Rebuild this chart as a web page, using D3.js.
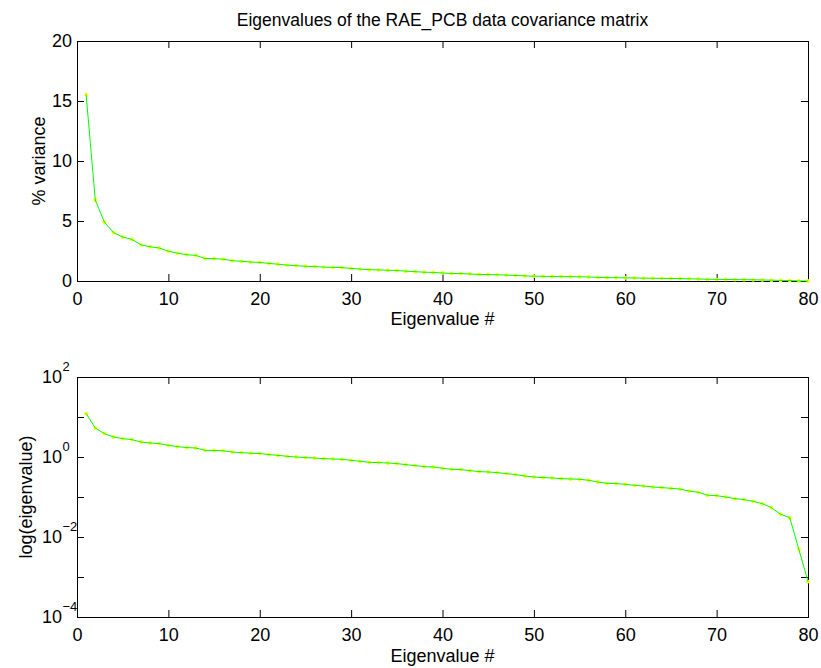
<!DOCTYPE html>
<html>
<head>
<meta charset="utf-8">
<script src="https://cdn.jsdelivr.net/npm/d3@7"></script>
<style>
  body { margin: 0; background: #fff; }
  svg { font-family: "Liberation Sans", Arial, sans-serif; }
</style>
</head>
<body>
<svg id="chart"></svg>
<script>
const width = 821;
const height = 668;

// eigenvalues, #1 .. #80
const eigenvalues = [
  12.2, 5.3, 3.85, 3.16, 2.88, 2.72, 2.37, 2.24, 2.16, 1.95,
  1.82, 1.72, 1.68, 1.47, 1.46, 1.43, 1.33, 1.29, 1.24, 1.22,
  1.15, 1.10, 1.04, 1.0, 0.966, 0.944, 0.91, 0.89, 0.876, 0.827,
  0.78, 0.737, 0.724, 0.708, 0.684, 0.645, 0.61, 0.575, 0.562, 0.522,
  0.493, 0.484, 0.457, 0.431, 0.422, 0.407, 0.385, 0.363, 0.335, 0.316,
  0.305, 0.299, 0.288, 0.282, 0.277, 0.262, 0.237, 0.22, 0.216, 0.208,
  0.196, 0.188, 0.178, 0.172, 0.165, 0.158, 0.141, 0.131, 0.111, 0.108,
  0.1, 0.091, 0.086, 0.078, 0.068, 0.054, 0.037, 0.0305, 0.0049, 0.00077
];
const xTicks = [0, 10, 20, 30, 40, 50, 60, 70, 80];
const varTicks = [0, 5, 10, 15, 20];
const logTicks = [1e-4, 1e-3, 1e-2, 1e-1, 1e0, 1e1, 1e2];
const logLabels = ["\u22124", "", "\u22122", "", "0", "", "2"];

const total = d3.sum(eigenvalues);
const points = eigenvalues.map((v, i) => ({ n: i + 1, eig: v, pct: v / total * 100 }));

const svg = d3.select("#chart").attr("width", width).attr("height", height);

const left = 77, right = 808;
const fs = 18;
const x = d3.scaleLinear().domain([0, 80]).range([left, right]);
const yVar = d3.scaleLinear().domain([0, 20]).range([281, 41]);
const yLog = d3.scaleLog().domain([1e-4, 1e2]).range([617, 377]);

function drawBox(yScale, yTickVals, yFormat) {
  const [y0, y1] = yScale.range();
  const g = svg.append("g");
  const styleAxis = (a) => {
    a.selectAll("path").attr("stroke", "#000").attr("stroke-width", 1);
    a.selectAll("line").attr("stroke", "#000");
    a.selectAll("text").attr("fill", "#000").attr("font-size", fs).attr("font-family", null);
  };
  g.append("g").attr("transform", `translate(0,${y0})`)
    .call(d3.axisBottom(x).tickValues(xTicks).tickSizeInner(-7).tickSizeOuter(0).tickPadding(11.5))
    .call(styleAxis);
  g.append("g").attr("transform", `translate(0,${y1})`)
    .call(d3.axisTop(x).tickValues(xTicks).tickSizeInner(-7).tickSizeOuter(0).tickFormat(""))
    .call(styleAxis);
  g.append("g").attr("transform", `translate(${left},0)`)
    .call(d3.axisLeft(yScale).tickValues(yTickVals).tickSizeInner(-7).tickSizeOuter(0).tickPadding(5).tickFormat(yFormat))
    .call(styleAxis);
  g.append("g").attr("transform", `translate(${right},0)`)
    .call(d3.axisRight(yScale).tickValues(yTickVals).tickSizeInner(-7).tickSizeOuter(0).tickFormat(""))
    .call(styleAxis);
  g.selectAll(".domain").attr("shape-rendering", "crispEdges");
  return g;
}

function drawSeries(yScale, key) {
  const line = d3.line().x(d => x(d.n)).y(d => yScale(d[key]));
  svg.append("g").selectAll("circle").data(points).join("circle")
    .attr("cx", d => x(d.n)).attr("cy", d => yScale(d[key]))
    .attr("r", 1.9).attr("fill", "#ffff00");
  svg.append("path").datum(points)
    .attr("d", line).attr("fill", "none")
    .attr("stroke", "#00ff00").attr("stroke-width", 1);
}

// top: % variance
drawBox(yVar, varTicks, d3.format("d"));
drawSeries(yVar, "pct");

// bottom: log(eigenvalue)
const logAxis = drawBox(yLog, logTicks, () => "");
logTicks.forEach((t, i) => {
  if (!logLabels[i]) return;
  logAxis.append("text").attr("x", 62).attr("y", yLog(t)).attr("dy", "0.35em")
    .attr("text-anchor", "end").attr("font-size", fs).text("10");
  logAxis.append("text").attr("x", 62.5).attr("y", yLog(t) - 6)
    .attr("text-anchor", "start").attr("font-size", 13).text(logLabels[i]);
});
drawSeries(yLog, "eig");

// text
svg.append("text").attr("x", (left + right) / 2).attr("y", 26)
  .attr("text-anchor", "middle").attr("font-size", 17.5)
  .text("Eigenvalues of the RAE_PCB data covariance matrix");

svg.append("text").attr("x", (left + right) / 2).attr("y", 325)
  .attr("text-anchor", "middle").attr("font-size", fs).text("Eigenvalue #");
svg.append("text").attr("x", (left + right) / 2).attr("y", 661.5)
  .attr("text-anchor", "middle").attr("font-size", fs).text("Eigenvalue #");

svg.append("text").attr("transform", `translate(45,161) rotate(-90)`)
  .attr("text-anchor", "middle").attr("font-size", fs).text("% variance");
svg.append("text").attr("transform", `translate(32,497) rotate(-90)`)
  .attr("text-anchor", "middle").attr("font-size", fs).text("log(eigenvalue)");
</script>
</body>
</html>
